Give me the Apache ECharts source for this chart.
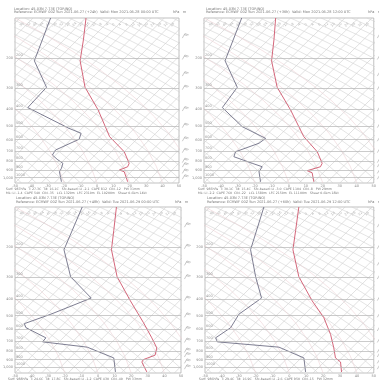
<!DOCTYPE html>
<html><head><meta charset="utf-8">
<script src="https://cdn.jsdelivr.net/npm/echarts@6/dist/echarts.min.js"></script>
<style>html,body{margin:0;padding:0;background:#fff}#c{width:379px;height:381px}</style>
</head><body><div id="c"></div>
<script>
// ---- data (pressure in hPa, x in skewed-axis units 0..100) ----
const pressureLevels = [200,300,400,500,600,700,800,900,1000];
const xTicks = [0,10,20,30,40,50,60,70,80,90,100];
const windLevels = [150,200,250,300,400,500,600,700,800,850,925,1000];

const dew1P = [117,208,297,390,515,551,597,690,738,782,825,882,924,1057];
const dew1X = [21.7,11.8,19.2,7.8,32.8,40.3,39.1,24.7,22.8,25.7,29.2,28.3,27.1,28.3];
const tmp1P = [117,157,208,297,403,577,706,825,864,903,924,1057];
const tmp1X = [43.3,41.7,39.7,42.7,50.7,57.7,66.6,69.6,68.7,63.7,66.6,68.7];

const dew2P = [117,208,297,390,504,590,630,706,755,825,864,924,1057];
const dew2X = [22.2,12.4,19.6,10.8,22.5,36.3,32.4,18.6,17.6,28.4,34.3,32.4,33.3];
const tmp2P = [117,157,208,297,403,577,706,825,864,911,937,1057];
const tmp2X = [42.2,41.2,39.8,43.1,51,58.8,66.7,69.6,68.6,60.8,63.7,64.7];

const dew3P = [117,207,297,395,490,556,587,672,709,761,879,1060];
const dew3X = [40.5,29.5,33.5,45.9,21.6,5.6,6.6,18.6,16.6,43.5,59.5,60.5];
const tmp3P = [117,160,207,297,410,549,672,768,847,898,928,1060];
const tmp3X = [61.1,59.5,58.1,61.5,69.5,77.4,82.4,85.4,84.4,77.4,76.4,79.4];

const dew4P = [117,207,297,395,490,587,672,709,761,879,1060];
const dew4X = [34.9,27,30,33.5,20.1,15.2,6.3,7.3,43.8,58.6,59.6];
const tmp4P = [117,160,207,297,410,513,642,768,879,928,1060];
const tmp4X = [55.6,53.7,52.1,55.6,63.5,70.4,74.4,76.3,77.3,80.3,80.9];

const headers = [
  ['Location: 45.03N 7.73E (TORINO)','Reference: ECMWF 00Z Sun 2021-06-27 (+24h)','Valid: Mon 2021-06-28 00:00 UTC'],
  ['Location: 45.03N 7.73E (TORINO)','Reference: ECMWF 00Z Sun 2021-06-27 (+36h)','Valid: Mon 2021-06-28 12:00 UTC'],
  ['Location: 45.03N 7.73E (TORINO)','Reference: ECMWF 00Z Sun 2021-06-27 (+48h)','Valid: Tue 2021-06-29 00:00 UTC'],
  ['Location: 45.03N 7.73E (TORINO)','Reference: ECMWF 00Z Sun 2021-06-27 (+60h)','Valid: Tue 2021-06-29 12:00 UTC']
];
const footers = [
  ['Surf: 987hPa  T: 27.3C  Td: 16.1C   Sfc-based: LI -2.1  CAPE 812  CIN -12   PW 31mm','ML: LI -1.4  CAPE 540  CIN -35   LCL 1320m  LFC 2310m  EL 10200m   Shear 0-6km 14kt'],
  ['Surf: 985hPa  T: 30.1C  Td: 15.4C   Sfc-based: LI -3.0  CAPE 1104  CIN -8   PW 29mm','ML: LI -2.2  CAPE 760  CIN -22   LCL 1580m  LFC 2150m  EL 11100m   Shear 0-6km 18kt'],
  ['Surf: 988hPa  T: 24.6C  Td: 17.8C   Sfc-based: LI -1.2  CAPE 430  CIN -40   PW 33mm'],
  ['Surf: 986hPa  T: 29.4C  Td: 16.9C   Sfc-based: LI -2.6  CAPE 950  CIN -15   PW 32mm']
];

// ---- layout ----
const grids = [
  {left:12, top:18, width:167, height:165},
  {left:204, top:18, width:170, height:165},
  {left:14, top:207, width:167, height:166},
  {left:205, top:207, width:169, height:166}
];
const P_MIN = 117, P_MAX = 1075;
const LNR = Math.log(P_MAX / P_MIN);
const profiles = [[dew1P,dew1X,tmp1P,tmp1X],[dew2P,dew2X,tmp2P,tmp2X],[dew3P,dew3X,tmp3P,tmp3X],[dew4P,dew4X,tmp4P,tmp4X]];
const zip = (P, X) => P.map((p, i) => [X[i], p]);

// background families (chart furniture)
const fracSteps = [0, 0.1, 0.2, 0.3, 0.4, 0.5, 0.6, 0.7, 0.8, 0.9, 1];
const pAt = f => P_MAX * Math.exp(-f * LNR);
function family(starts, shape, fmax) {
  const out = [];
  starts.forEach(x0 => {
    fracSteps.filter(f => f <= (fmax || 1) + 1e-9).forEach(f => out.push([x0 + shape(f), pAt(f)]));
    out.push(['-', '-']);
  });
  return out;
}
const range = (a, b, s) => { const r = []; for (let v = a; v <= b; v += s) r.push(v); return r; };
const isoStarts = range(-120, 100, 8);
const dryStarts = range(4, 280, 9);
const moistStarts = range(30, 110, 20);
const isoLabelX = range(4, 96, 4);

const series = [], xAxes = [], yAxes = [];
grids.forEach((g, i) => {
  xAxes.push({gridIndex:i, type:'value', min:0, max:100,
    axisLine:{show:false}, axisTick:{show:false}, splitLine:{show:false},
    axisLabel:{show:true, fontSize:3.5, color:'#888', margin:1.5, customValues:xTicks, formatter:v => String(v - 50)}});
  yAxes.push({gridIndex:i, type:'log', logBase:10, inverse:true, min:P_MIN, max:P_MAX,
    axisLine:{show:false}, axisTick:{show:false}, splitLine:{show:false},
    axisLabel:{show:true, fontSize:3.5, color:'#888', margin:2, customValues:pressureLevels}});
  const base = {xAxisIndex:i, yAxisIndex:i, type:'line', symbol:'none', silent:true, animation:false, clip:true};
  series.push(Object.assign({}, base, {data:family(isoStarts, f => 99 * f), lineStyle:{color:'#cdcdcd', width:0.6}}));
  series.push(Object.assign({}, base, {data:family(dryStarts, f => -105 * f - 55 * f * f), lineStyle:{color:'#d2d2d2', width:0.6}}));
  series.push(Object.assign({}, base, {data:family(moistStarts, f => -30 * f - 80 * f * f), lineStyle:{color:'#ebcfd3', width:0.55}}));
  series.push(Object.assign({}, base, {data:[], markLine:{silent:true, symbol:'none', animation:false,
    lineStyle:{color:'#b5b5b5', width:0.7, type:'solid'},
    label:{show:true, position:'insideStartTop', fontSize:3.5, color:'#999', distance:1, formatter:'{c}'},
    data:pressureLevels.map(p => ({yAxis:p}))}}));
  series.push(Object.assign({}, base, {data:[], markLine:{silent:true, symbol:'none', animation:false,
    lineStyle:{opacity:0},
    label:{show:true, position:'insideEndTop', fontSize:3.5, color:'#999', distance:1, formatter:'{c}'},
    data:pressureLevels.map(p => ({yAxis:p}))}}));
  // isotherm labels row near the top
  series.push({type:'scatter', xAxisIndex:i, yAxisIndex:i, silent:true, animation:false, symbolSize:0,
    data:isoLabelX.map(x => [x, 128]),
    label:{show:true, fontSize:3.5, color:'#a0a0a0', rotate:45, formatter:p => String(Math.round(p.value[0] - 60))}});
  // wind barbs outside the right edge
  series.push({type:'scatter', xAxisIndex:i, yAxisIndex:i, silent:true, animation:false, clip:false,
    symbol:'path://M0,12 L0,0 L5,-2 M0,3 L4,1', symbolSize:[4,6], symbolRotate:-30,
    itemStyle:{color:'none', borderColor:'#8a8a8a', borderWidth:0.5},
    data:windLevels.map(p => [104, p])});
  const pr = profiles[i];
  series.push(Object.assign({}, base, {data:zip(pr[0], pr[1]), lineStyle:{color:'#6f6f86', width:0.9}}));
  series.push(Object.assign({}, base, {data:zip(pr[2], pr[3]), lineStyle:{color:'#cf566c', width:0.9}}));
});

// texts
const gtext = [];
const font = 'DejaVu Sans';
const hdrY = [[9,12.5],[9,12.5],[198.5,201.8],[198.5,201.8]];
grids.forEach((g, i) => {
  const h = headers[i];
  gtext.push({type:'text', left:g.left + 2, top:hdrY[i][0] - 2, silent:true, style:{text:h[0], fontSize:3.5, fill:'#777', fontFamily:font}});
  gtext.push({type:'text', left:g.left + 2, top:hdrY[i][1] - 2, silent:true, style:{text:h[1], fontSize:3.5, fill:'#777', fontFamily:font}});
  gtext.push({type:'text', left:g.left + 88, top:hdrY[i][1] - 2, silent:true, style:{text:h[2], fontSize:3.5, fill:'#777', fontFamily:font}});
  gtext.push({type:'text', left:g.left + g.width - 6, top:hdrY[i][1] - 2, silent:true, style:{text:'hPa   m', fontSize:3.5, fill:'#777', fontFamily:font}});
  const fy = g.top + g.height + 5;
  footers[i].forEach((t, k) => gtext.push({type:'text', left:g.left - 6, top:fy + k * 3.4, silent:true, style:{text:t, fontSize:3.2, fill:'#777', fontFamily:font}}));
});

const chart = echarts.init(document.getElementById('c'), null, {renderer:'canvas'});
chart.setOption({
  animation:false,
  backgroundColor:'#fff',
  textStyle:{fontFamily:font},
  grid:grids.map(g => Object.assign({show:true, borderColor:'#a8a8a8', borderWidth:0.7, backgroundColor:'transparent'}, g)),
  xAxis:xAxes, yAxis:yAxes, series:series, graphic:gtext
});
</script></body></html>
